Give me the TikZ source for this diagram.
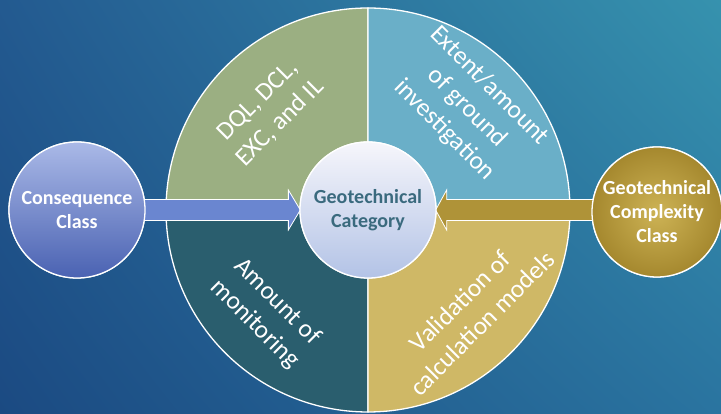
\documentclass[tikz,border=0pt]{standalone}
\usepackage{fontspec}
\setmainfont{Carlito}
\usetikzlibrary{calc,shadings}

\definecolor{bgUL}{HTML}{235A90}
\definecolor{bgUR}{HTML}{3692AE}
\definecolor{bgLL}{HTML}{1B4A82}
\definecolor{bgLR}{HTML}{2A74A0}
\definecolor{qGreen}{HTML}{9BAF82}
\definecolor{qSky}{HTML}{6AAFC8}
\definecolor{qTeal}{HTML}{2A5E6E}
\definecolor{qGold}{HTML}{CFB866}
\definecolor{blueTop}{HTML}{AAB9E7}
\definecolor{blueBot}{HTML}{4A62B2}
\definecolor{goldIn}{HTML}{CDB355}
\definecolor{goldOut}{HTML}{A5882E}
\definecolor{coreTop}{HTML}{F6F6FB}
\definecolor{coreBot}{HTML}{B3C3E6}
\definecolor{coreText}{HTML}{3A6A7E}
\definecolor{arrBlue}{HTML}{6A86D0}
\definecolor{arrGold}{HTML}{AF9338}

\tikzset{
  quad/.style={draw=white, line width=1.3pt},
  hub/.style={circle, inner sep=0pt, draw=white, line width=1.3pt, align=center,
    font=\fontsize{20}{24}\selectfont\bfseries},
  sectorlabel/.style={align=center, text=white,
    font=\fontsize{25.5}{31.5}\selectfont},
  blockarrow/.style={draw=white, line width=0.8pt}
}

\begin{document}
\begin{tikzpicture}[x=1pt,y=1pt]
  \useasboundingbox (0,0) rectangle (721,414);
  % backdrop
  \shade[upper left=bgUL, upper right=bgUR, lower left=bgLL, lower right=bgLR]
    (0,0) rectangle (721,414);

  % four sectors of the large disc
  \coordinate (O) at (368,204);
  \def\R{202}
  \filldraw[quad, fill=qGreen] (O) -- ++(-\R,0) arc[start angle=180, end angle=90, radius=\R] -- cycle;
  \filldraw[quad, fill=qSky]   (O) -- ++(0,\R) arc[start angle=90, end angle=0, radius=\R] -- cycle;
  \filldraw[quad, fill=qTeal]  (O) -- ++(0,-\R) arc[start angle=270, end angle=180, radius=\R] -- cycle;
  \filldraw[quad, fill=qGold]  (O) -- ++(\R,0) arc[start angle=0, end angle=-90, radius=\R] -- cycle;

  % sector labels
  \node[sectorlabel, rotate=45]  (dql)  at (269,302) {DQL, DCL,\\EXC, and IL};
  \node[sectorlabel, rotate=-45] (ext)  at (467,306) {Extent/amount\\of ground\\investigation};
  \node[sectorlabel, rotate=-45] (mon)  at (266,101) {Amount of\\monitoring};
  \node[sectorlabel, rotate=45]  (val)  at (471,102) {Validation of\\calculation models};

  % outer circles (placed first, painted after the arrows)
  \path (77,204) coordinate (ccpos) (657,202) coordinate (gccpos);
  \node[hub, minimum size=136pt, text=white] (cc) at (ccpos) {};
  \node[hub, minimum size=136pt] (gc) at (O) {};
  \node[hub, minimum size=130pt] (gcc) at (gccpos) {};

  % block arrows into the centre
  \filldraw[blockarrow, fill=arrBlue]
    ($(cc.east)+(-3,10.5)$) -- ($(gc.west)+(-11,10.5)$) -- ($(gc.west)+(-11,20)$)
    -- ($(gc.west)+(1,0)$) -- ($(gc.west)+(-11,-20)$) -- ($(gc.west)+(-11,-10.5)$)
    -- ($(cc.east)+(-3,-10.5)$) -- cycle;
  \filldraw[blockarrow, fill=arrGold]
    ($(gcc.west)+(3,12.5)$) -- ($(gc.east)+(10,10.5)$) -- ($(gc.east)+(10,20)$)
    -- ($(gc.east)+(-1,0)$) -- ($(gc.east)+(10,-20)$) -- ($(gc.east)+(10,-10.5)$)
    -- ($(gcc.west)+(3,-8.5)$) -- cycle;

  % circles with their labels
  \node[hub, minimum size=136pt, top color=blueTop, bottom color=blueBot, text=white]
    at (cc) {Consequence\\Class};
  \node[hub, minimum size=130pt, shading=radial, inner color=goldIn, outer color=goldOut, text=white]
    at (gcc) {Geotechnical\\Complexity\\Class};
  \node[hub, minimum size=136pt, top color=coreTop, bottom color=coreBot, text=coreText]
    at (gc) {Geotechnical\\Category};
\end{tikzpicture}
\end{document}
